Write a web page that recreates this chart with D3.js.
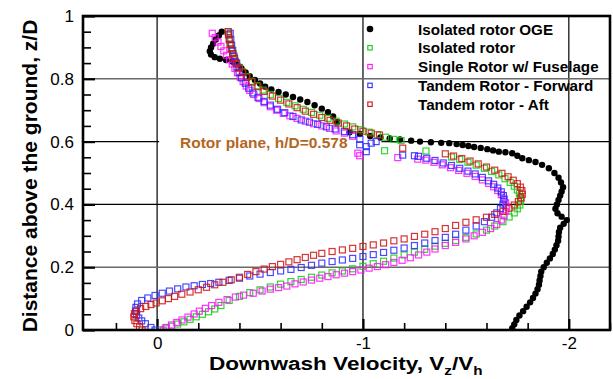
<!DOCTYPE html>
<html>
<head>
<meta charset="utf-8">
<script src="https://cdn.jsdelivr.net/npm/d3@7"></script>
<style>
  body { margin: 0; background: #fff; }
  svg { display: block; }
</style>
</head>
<body>
<div id="chart"></div>
<script>
// values: [velocity Vz/Vh, height z/D]
const seriesNames = ["Isolated rotor OGE", "Isolated rotor", "Single Rotor w/ Fuselage", "Tandem Rotor - Forward", "Tandem rotor - Aft"];
const seriesColors = ["#000000", "#11cc11", "#ff11ff", "#2a2aff", "#d01010"];

const isolatedOge = [
  [-0.314,0.950],[-0.300,0.938],[-0.285,0.925],[-0.272,0.912],[-0.262,0.900],[-0.256,0.888],[-0.262,0.877],[-0.28,0.869],
  [-0.305,0.864],[-0.335,0.860],[-0.365,0.855],[-0.39,0.845],[-0.41,0.833],[-0.43,0.820],[-0.45,0.808],[-0.475,0.796],
  [-0.50,0.785],[-0.525,0.775],[-0.555,0.766],[-0.59,0.758],[-0.625,0.750],[-0.66,0.742],[-0.695,0.734],[-0.73,0.726],
  [-0.765,0.716],[-0.80,0.705],[-0.83,0.694],[-0.855,0.680],[-0.875,0.662],[-0.935,0.630],[-0.985,0.624],[-1.035,0.618],
  [-1.085,0.613],[-1.13,0.610],[-1.18,0.607],[-1.234,0.603],[-1.277,0.600],[-1.33,0.598],[-1.38,0.596],[-1.419,0.595],
  [-1.455,0.592],[-1.484,0.589],[-1.512,0.586],[-1.54,0.583],[-1.572,0.580],[-1.604,0.576],[-1.632,0.572],[-1.66,0.568],
  [-1.692,0.566],[-1.725,0.563],[-1.75,0.555],[-1.774,0.547],[-1.806,0.541],[-1.838,0.535],[-1.87,0.526],[-1.903,0.515],
  [-1.93,0.500],[-1.95,0.485],[-1.962,0.470],[-1.972,0.455],[-1.965,0.441],[-1.958,0.428],[-1.950,0.414],[-1.942,0.400],
  [-1.935,0.386],[-1.945,0.372],[-1.965,0.361],[-1.99,0.350],[-1.975,0.338],[-1.958,0.326],[-1.952,0.312],[-1.950,0.298],
  [-1.948,0.284],[-1.94,0.270],[-1.932,0.256],[-1.922,0.242],[-1.908,0.228],[-1.893,0.214],[-1.878,0.200],[-1.866,0.186],
  [-1.862,0.172],[-1.858,0.158],[-1.855,0.144],[-1.848,0.130],[-1.838,0.116],[-1.826,0.102],[-1.812,0.088],[-1.795,0.074],
  [-1.778,0.060],[-1.76,0.046],[-1.745,0.032],[-1.735,0.018],[-1.725,0.006]
];

const isolatedRotor = [
  [-0.02,0.000],[-0.04,0.006],[-0.07,0.012],[-0.10,0.019],[-0.13,0.026],[-0.16,0.034],[-0.19,0.042],[-0.22,0.050],
  [-0.25,0.058],[-0.28,0.067],[-0.31,0.078],[-0.35,0.094],[-0.40,0.107],[-0.45,0.119],[-0.50,0.128],[-0.55,0.137],
  [-0.60,0.146],[-0.65,0.154],[-0.70,0.161],[-0.75,0.168],[-0.80,0.175],[-0.85,0.182],[-0.90,0.188],[-0.95,0.195],
  [-1.00,0.203],[-1.05,0.211],[-1.10,0.219],[-1.15,0.229],[-1.20,0.239],[-1.25,0.248],[-1.30,0.257],[-1.35,0.267],
  [-1.40,0.276],[-1.45,0.285],[-1.50,0.295],[-1.55,0.306],[-1.60,0.318],[-1.64,0.331],[-1.68,0.345],[-1.71,0.360],
  [-1.735,0.373],[-1.75,0.386],[-1.762,0.398],[-1.766,0.410],[-1.765,0.422],[-1.76,0.434],[-1.75,0.446],[-1.735,0.458],
  [-1.715,0.470],[-1.69,0.482],[-1.66,0.494],[-1.625,0.505],[-1.59,0.515],[-1.55,0.525],[-1.51,0.534],[-1.47,0.543],
  [-1.43,0.551],[-1.306,0.570],[-1.105,0.571],[-1.185,0.603],[-1.15,0.607],[-1.11,0.614],[-1.07,0.622],[-1.03,0.630],
  [-0.99,0.638],[-0.95,0.647],[-0.91,0.656],[-0.87,0.665],[-0.83,0.674],[-0.79,0.684],[-0.75,0.693],[-0.71,0.703],
  [-0.67,0.714],[-0.63,0.725],[-0.59,0.737],[-0.55,0.750],[-0.515,0.764],[-0.485,0.778],[-0.46,0.792],[-0.435,0.807],
  [-0.415,0.822],[-0.40,0.836],[-0.387,0.850],[-0.377,0.865],[-0.369,0.880],[-0.362,0.895],[-0.356,0.910],[-0.352,0.925],
  [-0.348,0.940],[-0.346,0.950]
];

const singleFuselage = [
  [-0.03,0.000],[-0.045,0.008],[-0.07,0.016],[-0.095,0.024],[-0.121,0.032],[-0.15,0.041],[-0.18,0.051],[-0.205,0.060],
  [-0.234,0.069],[-0.265,0.078],[-0.30,0.088],[-0.34,0.097],[-0.38,0.105],[-0.42,0.111],[-0.467,0.117],[-0.51,0.124],
  [-0.55,0.130],[-0.59,0.135],[-0.63,0.140],[-0.67,0.147],[-0.71,0.153],[-0.75,0.159],[-0.79,0.165],[-0.83,0.170],
  [-0.87,0.176],[-0.91,0.181],[-0.95,0.186],[-0.99,0.191],[-1.03,0.197],[-1.07,0.202],[-1.11,0.208],[-1.15,0.215],
  [-1.19,0.222],[-1.23,0.230],[-1.27,0.239],[-1.31,0.248],[-1.35,0.258],[-1.40,0.269],[-1.45,0.279],[-1.50,0.290],
  [-1.54,0.300],[-1.58,0.311],[-1.62,0.323],[-1.65,0.336],[-1.672,0.350],[-1.686,0.364],[-1.694,0.378],[-1.696,0.392],
  [-1.693,0.405],[-1.685,0.418],[-1.672,0.431],[-1.655,0.444],[-1.635,0.456],[-1.61,0.467],[-1.58,0.478],[-1.545,0.489],
  [-1.505,0.499],[-1.465,0.508],[-1.425,0.517],[-1.385,0.526],[-1.345,0.534],[-1.305,0.541],[-1.266,0.544],[-1.169,0.549],
  [-0.984,0.555],[-0.975,0.563],[-0.95,0.617],[-0.91,0.627],[-0.87,0.634],[-0.838,0.642],[-0.80,0.650],[-0.76,0.657],
  [-0.72,0.665],[-0.68,0.674],[-0.645,0.682],[-0.613,0.690],[-0.58,0.700],[-0.55,0.711],[-0.52,0.724],[-0.495,0.737],
  [-0.47,0.750],[-0.45,0.763],[-0.433,0.777],[-0.418,0.791],[-0.403,0.805],[-0.39,0.819],[-0.378,0.833],[-0.365,0.847],
  [-0.352,0.861],[-0.338,0.875],[-0.324,0.889],[-0.31,0.903],[-0.296,0.917],[-0.282,0.931],[-0.268,0.945]
];

const tandemForward = [
  [0.010,0.000],[0.030,0.008],[0.057,0.020],[0.075,0.029],[0.089,0.038],[0.100,0.048],[0.105,0.060],[0.103,0.072],
  [0.095,0.083],[0.075,0.094],[0.045,0.102],[0.010,0.110],[-0.025,0.117],[-0.06,0.124],[-0.10,0.131],[-0.14,0.137],
  [-0.18,0.141],[-0.22,0.145],[-0.26,0.148],[-0.30,0.152],[-0.35,0.158],[-0.40,0.165],[-0.45,0.172],[-0.50,0.178],
  [-0.55,0.183],[-0.60,0.188],[-0.65,0.193],[-0.70,0.199],[-0.75,0.206],[-0.80,0.213],[-0.85,0.218],[-0.90,0.223],
  [-0.95,0.228],[-1.00,0.234],[-1.05,0.240],[-1.10,0.247],[-1.15,0.254],[-1.20,0.261],[-1.25,0.269],[-1.30,0.277],
  [-1.35,0.285],[-1.40,0.295],[-1.45,0.305],[-1.50,0.318],[-1.55,0.331],[-1.59,0.345],[-1.625,0.359],[-1.65,0.373],
  [-1.668,0.387],[-1.68,0.401],[-1.685,0.415],[-1.682,0.428],[-1.672,0.440],[-1.655,0.452],[-1.635,0.464],[-1.61,0.475],
  [-1.58,0.486],[-1.545,0.497],[-1.51,0.506],[-1.47,0.515],[-1.43,0.524],[-1.39,0.532],[-1.35,0.540],[-1.31,0.547],
  [-1.27,0.553],[-1.25,0.555],[-1.193,0.557],[-1.016,0.568],[-1.016,0.584],[-0.984,0.590],[-1.04,0.595],[-1.064,0.600],
  [-0.985,0.607],[-0.95,0.622],[-0.91,0.632],[-0.865,0.640],[-0.822,0.647],[-0.78,0.655],[-0.74,0.662],[-0.70,0.669],
  [-0.66,0.680],[-0.62,0.692],[-0.585,0.703],[-0.55,0.716],[-0.52,0.728],[-0.49,0.741],[-0.465,0.755],[-0.445,0.770],
  [-0.428,0.786],[-0.41,0.803],[-0.398,0.820],[-0.388,0.837],[-0.38,0.855],[-0.373,0.872],[-0.367,0.890],[-0.362,0.907],
  [-0.358,0.925],[-0.355,0.945]
];

const tandemAft = [
  [0.073,0.000],[0.085,0.010],[0.098,0.020],[0.108,0.030],[0.113,0.042],[0.110,0.052],[0.100,0.060],[0.080,0.068],
  [0.055,0.075],[0.030,0.081],[0.005,0.086],[-0.025,0.093],[-0.055,0.100],[-0.085,0.107],[-0.12,0.114],[-0.16,0.121],
  [-0.20,0.128],[-0.24,0.136],[-0.28,0.144],[-0.32,0.152],[-0.36,0.160],[-0.40,0.168],[-0.44,0.177],[-0.48,0.186],
  [-0.52,0.194],[-0.56,0.202],[-0.60,0.209],[-0.64,0.217],[-0.68,0.224],[-0.72,0.231],[-0.76,0.238],[-0.80,0.244],
  [-0.85,0.250],[-0.90,0.255],[-0.95,0.260],[-1.00,0.266],[-1.05,0.271],[-1.10,0.277],[-1.15,0.284],[-1.20,0.290],
  [-1.25,0.298],[-1.30,0.305],[-1.35,0.313],[-1.40,0.323],[-1.45,0.333],[-1.50,0.343],[-1.55,0.351],[-1.60,0.359],
  [-1.64,0.368],[-1.68,0.378],[-1.71,0.388],[-1.735,0.398],[-1.755,0.409],[-1.768,0.420],[-1.774,0.432],[-1.772,0.444],
  [-1.765,0.455],[-1.75,0.466],[-1.73,0.477],[-1.705,0.488],[-1.675,0.499],[-1.64,0.509],[-1.60,0.519],[-1.56,0.529],
  [-1.52,0.538],[-1.48,0.546],[-1.44,0.554],[-1.40,0.561],[-1.193,0.579],[-1.08,0.621],[-1.04,0.627],[-1.00,0.633],
  [-0.96,0.640],[-0.92,0.650],[-0.88,0.659],[-0.84,0.668],[-0.80,0.677],[-0.76,0.687],[-0.72,0.697],[-0.68,0.708],
  [-0.64,0.720],[-0.60,0.732],[-0.56,0.745],[-0.52,0.760],[-0.49,0.775],[-0.46,0.790],[-0.435,0.805],[-0.415,0.820],
  [-0.398,0.835],[-0.385,0.850],[-0.375,0.865],[-0.367,0.880],[-0.36,0.895],[-0.354,0.910],[-0.35,0.925],[-0.347,0.940],
  [-0.345,0.950]
];

const xTicks = [0, -1, -2];
const xTickLabels = ["0", "-1", "-2"];
const yTicks = [0, 0.2, 0.4, 0.6, 0.8, 1];
const yTickLabels = ["0", "0.2", "0.4", "0.6", "0.8", "1"];
const rotorPlaneLabel = "Rotor plane, h/D=0.578";

const width = 613;
const height = 379;
const margin = {top: 16, right: 3, bottom: 49, left: 83};
const font = "'Liberation Sans', Arial, Helvetica, sans-serif";

const x = d3.scaleLinear().domain([0.36, -2.2]).range([margin.left, width - margin.right]);
const y = d3.scaleLinear().domain([0, 1]).range([height - margin.bottom, margin.top]);

const svg = d3.select("#chart").append("svg")
  .attr("width", width)
  .attr("height", height)
  .style("font-family", font);

svg.append("defs").append("clipPath").attr("id", "plot-clip")
  .append("rect")
  .attr("x", margin.left).attr("y", margin.top)
  .attr("width", width - margin.left - margin.right)
  .attr("height", height - margin.top - margin.bottom);

// grid
const grid = svg.append("g");
grid.selectAll("line.v")
  .data(xTicks)
  .join("line")
  .attr("class", "v")
  .attr("x1", d => x(d)).attr("x2", d => x(d))
  .attr("y1", y(1)).attr("y2", y(0))
  .attr("stroke", "#000").attr("stroke-width", 1.2);
grid.selectAll("line.h")
  .data(yTicks.filter(d => d > 0 && d < 1))
  .join("line")
  .attr("class", "h")
  .attr("x1", x.range()[0]).attr("x2", x.range()[1])
  .attr("y1", d => y(d)).attr("y2", d => y(d))
  .attr("stroke", d => (d === 0.2 || d === 0.8) ? "#6a6a6a" : "#000")
  .attr("stroke-width", d => (d === 0.2 || d === 0.8) ? 1.6 : 1.2);

// label with white box that hides the rotor-plane grid line
const labelG = svg.append("g");
labelG.append("rect")
  .attr("x", x(-0.01)).attr("y", y(0.6) - 9)
  .attr("width", x(-1.09) - x(-0.01)).attr("height", 18)
  .attr("fill", "#fff");
labelG.append("text")
  .attr("x", 180).attr("y", 148)
  .attr("fill", "#b5651d")
  .attr("font-size", 15.5)
  .attr("font-weight", "bold")
  .text(rotorPlaneLabel);

// axes ticks
const xMinor = d3.range(0.2, -2.21, -0.2).filter(d => Math.abs(d - Math.round(d)) > 1e-6);
const yMinor = d3.range(0.05, 1, 0.05).filter(d => Math.abs(d * 5 - Math.round(d * 5)) > 1e-6);

svg.append("g")
  .attr("transform", `translate(0,${y(0)})`)
  .call(d3.axisBottom(x).tickValues(xMinor).tickSize(-7).tickFormat(""))
  .call(g => g.select(".domain").remove())
  .call(g => g.selectAll(".tick line").attr("stroke-width", 1.6));

svg.append("g")
  .attr("transform", `translate(0,${y(0)})`)
  .call(d3.axisBottom(x).tickValues(xTicks).tickSize(-11).tickPadding(7)
    .tickFormat((d, i) => xTickLabels[i]))
  .call(g => g.select(".domain").remove())
  .call(g => g.selectAll(".tick line").attr("stroke-width", 2.2))
  .call(g => g.selectAll(".tick text").attr("font-size", 17).attr("font-family", font).attr("fill", "#000"));

svg.append("g")
  .attr("transform", `translate(${x.range()[0]},0)`)
  .call(d3.axisLeft(y).tickValues(yMinor).tickSize(-8).tickFormat(""))
  .call(g => g.select(".domain").remove())
  .call(g => g.selectAll(".tick line").attr("stroke-width", 1.6));

svg.append("g")
  .attr("transform", `translate(${x.range()[0]},0)`)
  .call(d3.axisLeft(y).tickValues(yTicks).tickSize(-12).tickPadding(9)
    .tickFormat((d, i) => yTickLabels[i]))
  .call(g => g.select(".domain").remove())
  .call(g => g.selectAll(".tick line").attr("stroke-width", 2.2))
  .call(g => g.selectAll(".tick text").attr("font-size", 17).attr("font-family", font).attr("fill", "#000"));

// data
const plot = svg.append("g").attr("clip-path", "url(#plot-clip)");
const squareSets = [isolatedRotor, singleFuselage, tandemForward, tandemAft];

plot.append("g")
  .selectAll("circle")
  .data(isolatedOge)
  .join("circle")
  .attr("cx", d => x(d[0]))
  .attr("cy", d => y(d[1]))
  .attr("r", 3.2)
  .attr("fill", seriesColors[0]);

squareSets.forEach((set, i) => {
  const s = 6;
  plot.append("g")
    .selectAll("rect")
    .data(set)
    .join("rect")
    .attr("x", d => x(d[0]) - s / 2)
    .attr("y", d => y(d[1]) - s / 2)
    .attr("width", s)
    .attr("height", s)
    .attr("fill", "none")
    .attr("stroke", seriesColors[i + 1])
    .attr("stroke-opacity", 0.85)
    .attr("stroke-width", 1.2);
});

// frame
svg.append("rect")
  .attr("x", x.range()[0]).attr("y", y(1))
  .attr("width", x.range()[1] - x.range()[0])
  .attr("height", y(0) - y(1))
  .attr("fill", "none")
  .attr("stroke", "#000")
  .attr("stroke-width", 2.6);

// legend
const legend = svg.append("g")
  .selectAll("g")
  .data(seriesNames)
  .join("g")
  .attr("transform", (d, i) => `translate(370,${29 + i * 18.8})`);

legend.each(function (d, i) {
  const g = d3.select(this);
  if (i === 0) {
    g.append("circle").attr("r", 3.3).attr("fill", seriesColors[0]);
  } else {
    g.append("rect")
      .attr("x", -2.2).attr("y", -2.2).attr("width", 4.4).attr("height", 4.4)
      .attr("fill", "none").attr("stroke", seriesColors[i]).attr("stroke-width", 1.1);
  }
  g.append("text")
    .attr("x", 48).attr("y", 5.5)
    .attr("font-size", 15.2)
    .attr("font-weight", "bold")
    .attr("fill", "#000")
    .text(d);
});

// axis titles (the reference glyphs are drawn wider than normal)
const xTitle = svg.append("text")
  .attr("transform", "translate(209,370) scale(1.22,1)")
  .attr("font-size", 18.5)
  .attr("font-weight", "bold");
xTitle.append("tspan").text("Downwash Velocity, V");
xTitle.append("tspan").attr("font-size", 12.5).attr("dy", 5).text("z");
xTitle.append("tspan").attr("dy", -5).text("/V");
xTitle.append("tspan").attr("font-size", 12.5).attr("dy", 5).text("h");

svg.append("text")
  .attr("transform", `translate(37,${(y(0) + y(1)) / 2 + 3}) rotate(-90)`)
  .attr("text-anchor", "middle")
  .attr("font-size", 21)
  .attr("font-weight", "bold")
  .text("Distance above the ground, z/D");
</script>
</body>
</html>
